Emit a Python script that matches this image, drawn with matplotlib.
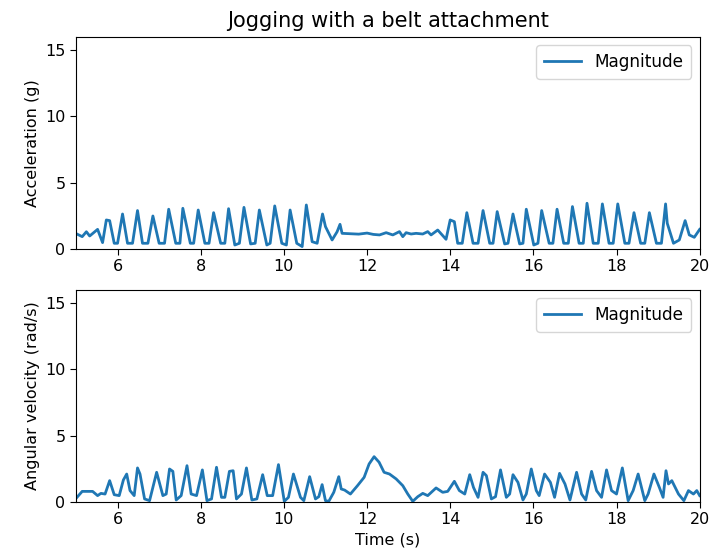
import numpy as np
import matplotlib
matplotlib.use("Agg")
from matplotlib import pyplot as plt

# Acceleration magnitude (g), vertices
acc_t = [4.99, 5.15, 5.25, 5.33, 5.52, 5.64, 5.73, 5.81, 5.92, 6.0, 6.12, 6.24, 6.36, 6.48, 6.6, 6.73,
         6.85, 7.0, 7.13, 7.23, 7.4, 7.5, 7.57, 7.75, 7.83, 7.94, 8.1, 8.2, 8.31, 8.48, 8.58, 8.67,
         8.82, 8.93, 9.04, 9.2, 9.31, 9.41, 9.59, 9.67, 9.78, 9.95, 10.06, 10.15, 10.31, 10.44, 10.54,
         10.68, 10.8, 10.93, 11.0, 11.16, 11.28, 11.35, 11.4, 11.6, 11.8, 12.0, 12.15, 12.3, 12.46,
         12.62, 12.78, 12.86, 12.94, 13.06, 13.18, 13.34, 13.46, 13.54, 13.7, 13.9, 14.0, 14.1, 14.18,
         14.29, 14.4, 14.55, 14.67, 14.79, 14.95, 15.03, 15.13, 15.31, 15.39, 15.51, 15.67, 15.75,
         15.83, 16.01, 16.11, 16.2, 16.38, 16.47, 16.57, 16.73, 16.84, 16.94, 17.1, 17.2, 17.29,
         17.44, 17.56, 17.66, 17.82, 17.92, 18.03, 18.2, 18.3, 18.42, 18.58, 18.68, 18.79, 18.96,
         19.08, 19.18, 19.22, 19.37, 19.51, 19.65, 19.75, 19.87, 20.0]
acc_mag = [1.18, 0.93, 1.3, 0.98, 1.48, 0.48, 2.19, 2.14, 0.43, 0.43, 2.64, 0.43, 0.43, 2.9, 0.43, 0.43,
           2.49, 0.43, 0.43, 3.0, 0.43, 0.43, 3.07, 0.43, 0.43, 2.94, 0.43, 0.43, 2.74, 0.43, 0.43, 3.04,
           0.3, 0.43, 3.14, 0.38, 0.43, 2.94, 0.3, 0.43, 3.25, 0.43, 0.3, 2.94, 0.43, 0.18, 3.32,
           0.55, 0.43, 2.64, 1.69, 0.68, 1.3, 1.86, 1.18, 1.15, 1.12, 1.2, 1.1, 1.06, 1.23,
           1.06, 1.31, 0.93, 1.23, 1.13, 1.18, 1.13, 1.31, 1.06, 1.43, 0.73, 2.19, 2.06, 0.43,
           0.43, 2.74, 0.43, 0.43, 2.9, 0.43, 0.43, 2.82, 0.38, 0.43, 2.64, 0.38, 0.43,
           3.0, 0.3, 0.43, 2.9, 0.43, 0.43, 3.0, 0.43, 0.43, 3.2, 0.43, 0.43, 3.45,
           0.43, 0.43, 3.4, 0.43, 0.43, 3.4, 0.43, 0.43, 2.74, 0.43, 0.43, 2.74, 0.43,
           0.43, 3.4, 1.94, 0.43, 0.68, 2.14, 1.06, 0.88, 1.48]

# Angular velocity magnitude (rad/s)
gyr_t = [4.99, 5.15, 5.4, 5.52, 5.6, 5.7, 5.81, 5.92, 6.04, 6.14, 6.22, 6.3, 6.4, 6.48, 6.54, 6.65,
         6.77, 6.94, 7.09, 7.17, 7.25, 7.33, 7.41, 7.53, 7.67, 7.77, 7.9, 8.04, 8.15, 8.26, 8.38,
         8.5, 8.58, 8.69, 8.78, 8.86, 8.98, 9.1, 9.23, 9.35, 9.49, 9.6, 9.73, 9.87, 10.01, 10.11,
         10.23, 10.4, 10.48, 10.62, 10.76, 10.84, 10.92, 11.0, 11.08, 11.2, 11.32, 11.38, 11.46,
         11.6, 11.77, 11.93, 12.05, 12.17, 12.29, 12.41, 12.54, 12.7, 12.86, 12.98, 13.1, 13.22,
         13.34, 13.46, 13.66, 13.82, 13.94, 14.1, 14.22, 14.35, 14.47, 14.56, 14.67, 14.79, 14.87,
         14.99, 15.09, 15.21, 15.35, 15.43, 15.51, 15.63, 15.75, 15.83, 15.95, 16.07, 16.14, 16.27,
         16.41, 16.51, 16.63, 16.76, 16.88, 17.04, 17.16, 17.26, 17.4, 17.52, 17.64, 17.76, 17.88,
         18.0, 18.14, 18.28, 18.4, 18.52, 18.68, 18.76, 18.9, 19.03, 19.12, 19.19, 19.25, 19.33,
         19.49, 19.62, 19.73, 19.85, 19.93, 20.0]
gyr_mag = [0.23, 0.8, 0.8, 0.48, 0.65, 0.6, 1.61, 0.55, 0.48, 1.66, 2.11, 0.86, 0.48, 2.57, 2.11, 0.23,
           0.1, 2.24, 0.48, 0.6, 2.49, 2.31, 0.15, 0.48, 2.74, 0.6, 0.48, 2.42, 0.1, 0.23, 2.62,
           0.35, 0.35, 2.31, 2.36, 0.23, 0.6, 2.57, 0.15, 0.23, 2.06, 0.48, 0.48, 2.82, 0.05, 0.35,
           2.11, 0.35, 0.1, 1.91, 0.23, 0.4, 1.31, 0.1, 0.05, 0.73, 1.91, 0.98, 0.9,
           0.6, 1.23, 1.86, 2.87, 3.42, 3.0, 2.24, 2.11, 1.74, 1.23, 0.6, 0.05, 0.4,
           0.65, 0.48, 1.06, 0.73, 0.8, 1.56, 0.86, 0.6, 2.06, 1.1, 0.35, 2.24, 1.99,
           0.23, 0.4, 2.42, 0.35, 0.6, 2.06, 1.48, 0.15, 0.6, 2.49, 0.86, 0.48, 2.11,
           1.48, 0.35, 2.16, 1.36, 0.15, 2.24, 0.6, 0.15, 2.31, 0.86, 0.35, 2.42, 0.86,
           0.6, 2.57, 0.1, 0.86, 2.11, 0.1, 0.6, 2.11, 1.1, 0.35, 2.36, 1.36, 1.61,
           0.6, 0.1, 0.86, 0.6, 0.86, 0.48]

fs = 11.5
fig = plt.figure(figsize=(7.12, 5.6), dpi=100)
ax1 = fig.add_axes([0.1067, 0.5554, 0.876, 0.3786])
ax2 = fig.add_axes([0.1067, 0.1036, 0.876, 0.3786])

ax1.plot(acc_t, acc_mag, color="#1f77b4", lw=2.0, label="Magnitude")
ax2.plot(gyr_t, gyr_mag, color="#1f77b4", lw=2.0, label="Magnitude")

for ax in (ax1, ax2):
    ax.set_xlim(5, 20)
    ax.set_ylim(0, 16)
    ax.set_yticks([0, 5, 10, 15])
    ax.set_xticks([6, 8, 10, 12, 14, 16, 18, 20])
    ax.tick_params(labelsize=fs, length=4)
    ax.legend(loc="upper right", fontsize=12.2, handlelength=2.2, borderpad=0.45)

ax1.set_title("Jogging with a belt attachment", fontsize=15, pad=7)
ax1.set_ylabel("Acceleration (g)", fontsize=fs)
ax2.set_ylabel("Angular velocity (rad/s)", fontsize=fs)
ax2.set_xlabel("Time (s)", fontsize=fs)

fig.savefig("out.png", dpi=100)
